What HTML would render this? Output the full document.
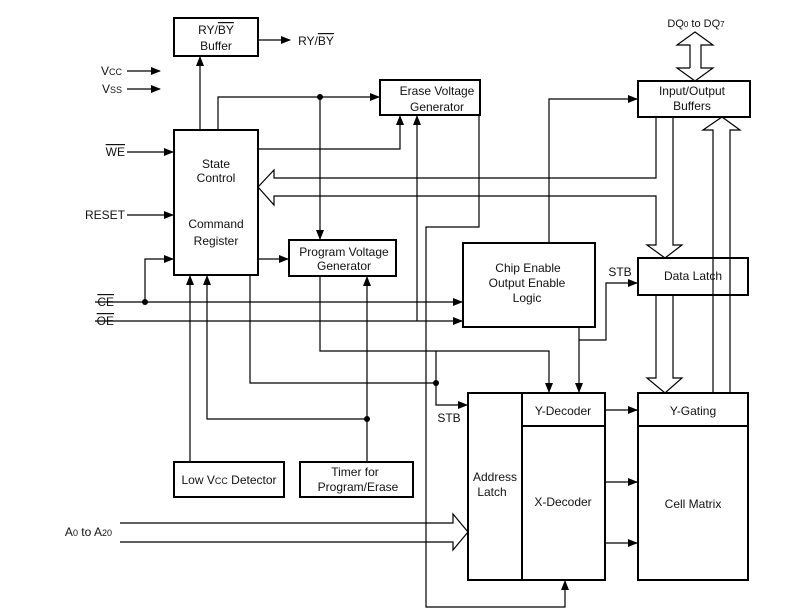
<!DOCTYPE html>
<html><head><style>
body{margin:0;background:#fff;}
svg{display:block;font-family:"Liberation Sans",Arial,sans-serif;}
</style></head><body>
<svg width="800" height="610" viewBox="0 0 800 610" xmlns="http://www.w3.org/2000/svg">
<defs>
<marker id="a" markerWidth="10" markerHeight="8" refX="9" refY="4" orient="auto" markerUnits="userSpaceOnUse">
<path d="M0,0 L10,4 L0,8 z" fill="#000"/></marker>
</defs>
<g fill="none" stroke="#000" stroke-width="1.2">
<rect x="174" y="18" width="84" height="38" stroke-width="2"/>
<rect x="174" y="130" width="84" height="145" stroke-width="2"/>
<rect x="380" y="80" width="100" height="35" stroke-width="2"/>
<rect x="289" y="240" width="107" height="36" stroke-width="2"/>
<rect x="463" y="243" width="132" height="84" stroke-width="2"/>
<rect x="638" y="81" width="112" height="36" stroke-width="2"/>
<rect x="638" y="258" width="110" height="37" stroke-width="2"/>
<rect x="468" y="393" width="137" height="187" stroke-width="2"/>
<line x1="522" y1="393" x2="522" y2="580" stroke-width="2"/>
<line x1="522" y1="426" x2="605" y2="426" stroke-width="2"/>
<rect x="638" y="393" width="110" height="187" stroke-width="2"/>
<line x1="638" y1="426" x2="748" y2="426" stroke-width="2"/>
<rect x="174" y="462" width="110" height="35" stroke-width="2"/>
<rect x="300" y="462" width="113" height="35" stroke-width="2"/>

<line x1="200" y1="130" x2="200" y2="57" marker-end="url(#a)"/>
<line x1="258" y1="40" x2="290" y2="40" marker-end="url(#a)"/>
<line x1="127" y1="71" x2="160" y2="71" marker-end="url(#a)"/>
<line x1="127" y1="89" x2="160" y2="89" marker-end="url(#a)"/>
<line x1="127" y1="152" x2="173" y2="152" marker-end="url(#a)"/>
<line x1="127" y1="215" x2="173" y2="215" marker-end="url(#a)"/>
<polyline points="218,130 218,97 379,97" marker-end="url(#a)"/>
<line x1="320" y1="97" x2="320" y2="239" marker-end="url(#a)"/>
<polyline points="258,149 400,149 400,116" marker-end="url(#a)"/>
<polyline points="417,321 417,116" marker-end="url(#a)"/>
<polyline points="479,115 479,227 426,227 426,607 565,607 565,581" marker-end="url(#a)"/>
<polyline points="549,243 549,99 637,99" marker-end="url(#a)"/>
<line x1="258" y1="259" x2="288" y2="259" marker-end="url(#a)"/>
<line x1="95" y1="302" x2="462" y2="302" marker-end="url(#a)"/>
<line x1="95" y1="321" x2="462" y2="321" marker-end="url(#a)"/>
<polyline points="145,302 145,259 173,259" marker-end="url(#a)"/>
<line x1="190" y1="462" x2="190" y2="276" marker-end="url(#a)"/>
<polyline points="367,419 207,419 207,276" marker-end="url(#a)"/>
<line x1="367" y1="462" x2="367" y2="277" marker-end="url(#a)"/>
<polyline points="250,275 250,383 436,383"/>
<polyline points="320,276 320,351 549,351 549,392" marker-end="url(#a)"/>
<polyline points="436,351 436,405 467,405" marker-end="url(#a)"/>
<polyline points="579,327 579,392" marker-end="url(#a)"/>
<polyline points="579,340 606,340 606,283 637,283" marker-end="url(#a)"/>
<line x1="605" y1="410" x2="637" y2="410" marker-end="url(#a)"/>
<line x1="605" y1="482" x2="637" y2="482" marker-end="url(#a)"/>
<line x1="605" y1="543" x2="637" y2="543" marker-end="url(#a)"/>

<polyline points="656,117 656,178 274,178 274,170 258,187 274,205 274,196 656,196 656,245 647,245 665,258 682,245 673,245 673,117"/>
<polyline points="656,295 656,378 647,378 665,393 682,378 673,378 673,295"/>
<polyline points="713,393 713,130 703,130 722,117 740,130 730,130 730,393"/>
<polyline points="690,68 677,68 695,81 713,68 701,68 701,45 713,45 695,32 677,45 690,45 690,68"/>
<polyline points="120,523 453,523 453,514 468,532 453,550 453,542 120,542"/>
</g>
<g fill="#000">
<circle cx="320" cy="97" r="3"/>
<circle cx="145" cy="302" r="3"/>
<circle cx="367" cy="419" r="3"/>
<circle cx="436" cy="383" r="3"/>
</g>
<g font-size="12" fill="#111" text-anchor="middle">
<text x="216" y="34">RY/<tspan text-decoration="overline">BY</tspan></text>
<text x="216" y="50">Buffer</text>
<text x="316" y="45">RY/<tspan text-decoration="overline">BY</tspan></text>
<text x="216" y="168">State</text>
<text x="216" y="182">Control</text>
<text x="216" y="228">Command</text>
<text x="216" y="245">Register</text>
<text x="437" y="95">Erase Voltage</text>
<text x="437" y="111">Generator</text>
<text x="344" y="256">Program Voltage</text>
<text x="344" y="270">Generator</text>
<text x="528" y="272">Chip Enable</text>
<text x="527" y="287">Output Enable</text>
<text x="527" y="302">Logic</text>
<text x="692" y="95">Input/Output</text>
<text x="692" y="110">Buffers</text>
<text x="693" y="280">Data Latch</text>
<text x="696" y="27" font-size="11">DQ<tspan font-size="8">0</tspan> to DQ<tspan font-size="8">7</tspan></text>
<text x="563" y="415">Y-Decoder</text>
<text x="563" y="506">X-Decoder</text>
<text x="495" y="481">Address</text>
<text x="492" y="496">Latch</text>
<text x="693" y="415">Y-Gating</text>
<text x="693" y="508">Cell Matrix</text>
<text x="229" y="484">Low V<tspan font-size="9">CC</tspan> Detector</text>
<text x="355" y="476">Timer for</text>
<text x="358" y="491">Program/Erase</text>
<text x="449" y="422">STB</text>
<text x="620" y="276">STB</text>
</g>
<g font-size="12" fill="#111" text-anchor="end">
<text x="122" y="75">V<tspan font-size="9">CC</tspan></text>
<text x="122" y="93">V<tspan font-size="9">SS</tspan></text>
<text x="125" y="156" text-decoration="overline">WE</text>
<text x="125" y="219">RESET</text>
<text x="114" y="306" text-decoration="overline">CE</text>
<text x="114" y="325" text-decoration="overline">OE</text>
<text x="112" y="536">A<tspan font-size="9">0</tspan> to A<tspan font-size="9">20</tspan></text>
</g>
</svg>
</body></html>
